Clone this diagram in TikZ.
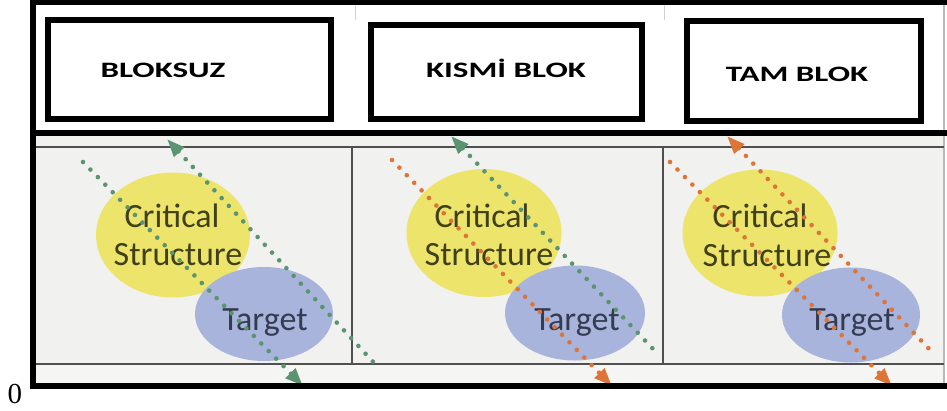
\documentclass[tikz,border=0pt]{standalone}
\usepackage{fontspec}
\usepackage{graphicx}
\newfontfamily\carl{Carlito}
\newfontfamily\serifz{Liberation Serif}
\usetikzlibrary{arrows.meta,shapes.geometric}
\definecolor{ylw}{HTML}{EDE56B}
\definecolor{blu}{HTML}{A8B4DC}
\definecolor{grn}{HTML}{5A9470}
\definecolor{org}{HTML}{DD7438}
\definecolor{photo}{HTML}{F1F1EF}
\definecolor{photolow}{HTML}{F5F5F3}
\definecolor{olivetext}{HTML}{40401A}
\definecolor{navytext}{HTML}{343C52}
\definecolor{divider}{HTML}{505050}
\begin{document}
\begin{tikzpicture}[x=1pt,y=-1pt,
  frameline/.style={line width=6pt,black},
  hdrbox/.style={draw=black,line width=6.5pt},
  hdrtext/.style={font=\carl\bfseries\fontsize{22}{24}\selectfont,anchor=base,inner sep=0pt},
  critbg/.style={ellipse,fill=ylw,draw=none,inner sep=0pt},
  targbg/.style={ellipse,fill=blu,draw=none,inner sep=0pt},
  critlbl/.style={font=\carl\fontsize{34}{38}\selectfont,anchor=base,inner sep=0pt,text=olivetext},
  targlbl/.style={font=\carl\fontsize{34}{38}\selectfont,anchor=base,inner sep=0pt,text=navytext},
  beam/.style={line width=4.6pt,line cap=round,dash pattern=on 0pt off 10.6pt},
  tipend/.style={-{Triangle[length=18pt,width=13pt]}},
  tipstart/.style={{Triangle[length=18pt,width=13pt]}-},
  gridline/.style={line width=2pt,divider}
]
\useasboundingbox (0,0) rectangle (947,410);
% backgrounds
\fill[white] (0,0) rectangle (947,410);
\fill[photo] (36,136) rectangle (944,364);
\fill[photolow] (36,364) rectangle (944,383);
% faint lines in header
\draw[gray!35,line width=1pt] (355,5) -- (355,20);
\draw[gray!35,line width=1pt] (664,5) -- (664,20);
\draw[gray!55,line width=1.5pt] (944,5) -- (944,383);
% inner grid lines
\draw[gridline] (36,146.5) -- (944,146.5);
\draw[gridline] (36,364) -- (944,364);
\draw[gridline] (352,146.5) -- (352,364);
\draw[gridline] (663,146.5) -- (663,364);

% ellipses
\node[critbg,minimum width=154pt,minimum height=125pt] (cs1) at (173,235) {};
\node[targbg,minimum width=138pt,minimum height=94pt] (tg1) at (264,314) {};
\node[critbg,minimum width=155pt,minimum height=128pt] (cs2) at (484,233) {};
\node[targbg,minimum width=140pt,minimum height=95pt] (tg2) at (575,313) {};
\node[critbg,minimum width=155pt,minimum height=127pt] (cs3) at (760,233) {};
\node[targbg,minimum width=138pt,minimum height=95pt] (tg3) at (851,315) {};

% labels
\node[critlbl] (c1a) at (172,227) {Critical};
\node[critlbl] (c1b) at (178,265) {Structure};
\node[targlbl] (t1) at (265,330) {Target};
\node[critlbl] (c2a) at (482,227) {Critical};
\node[critlbl] (c2b) at (489,265) {Structure};
\node[targlbl] (t2) at (577,330) {Target};
\node[critlbl] (c3a) at (760,227) {Critical};
\node[critlbl] (c3b) at (767,266) {Structure};
\node[targlbl] (t3) at (852,330) {Target};

% beams
\coordinate (b1as) at (83,162);   \coordinate (b1ae) at (303,386);
\coordinate (b1bs) at (167,139);  \coordinate (b1be) at (376,365);
\coordinate (b2as) at (392,160);  \coordinate (b2ae) at (612,386);
\coordinate (b2bs) at (451,136);  \coordinate (b2be) at (655,351);
\coordinate (b3as) at (670,162);  \coordinate (b3ae) at (892,386);
\coordinate (b3bs) at (727,136);  \coordinate (b3be) at (932,352);
\draw[beam,grn,tipend] (b1as) -- (b1ae);
\draw[beam,grn,tipstart] (b1bs) -- (b1be);
\draw[beam,org,tipend] (b2as) -- (b2ae);
\draw[beam,grn,tipstart] (b2bs) -- (b2be);
\draw[beam,org,tipend] (b3as) -- (b3ae);
\draw[beam,org,tipstart] (b3bs) -- (b3be);

% frame
\draw[frameline,line width=5pt] (30,2.5) -- (947,2.5);
\draw[frameline] (30,133) -- (947,133);
\draw[frameline] (30,386) -- (947,386);
\draw[frameline] (33,0) -- (33,389);

% header boxes
\node[hdrbox,minimum width=283pt,minimum height=99pt,inner sep=0pt] (hb1) at (189.5,69.5) {};
\node[hdrbox,minimum width=271pt,minimum height=94pt,inner sep=0pt] (hb2) at (506.5,72) {};
\node[hdrbox,minimum width=234pt,minimum height=100pt,inner sep=0pt] (hb3) at (804,71) {};
\node[hdrtext] (h1) at (163,77) {\scalebox{1.5}[1]{BLOKSUZ}};
\node[hdrtext] (h2) at (506,77) {\scalebox{1.5}[1]{KISMİ BLOK}};
\node[hdrtext] (h3) at (797,81) {\scalebox{1.5}[1]{TAM BLOK}};

% stray zero
\node[font=\serifz\fontsize{29}{30}\selectfont,anchor=base,inner sep=0pt] (zero) at (15,403) {0};
\end{tikzpicture}
\end{document}
